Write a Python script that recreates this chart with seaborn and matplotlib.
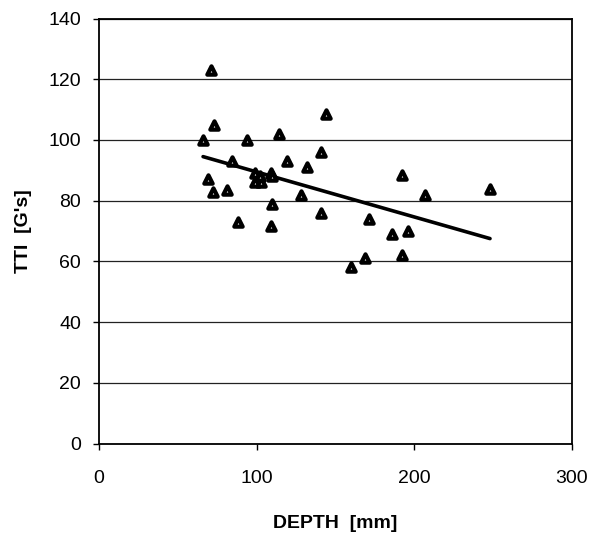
import matplotlib
matplotlib.use("Agg")
import matplotlib.pyplot as plt
import seaborn as sns
import pandas as pd

depth = [66, 71, 73, 69, 72, 81, 84.5, 88, 94, 99, 99, 103, 102, 109, 110, 109, 110,
         114, 119, 128, 132, 141, 141, 144, 160, 169, 171, 186, 192, 192, 196, 207, 248]
tti = [100, 123, 105, 87, 83, 83.5, 93, 73, 100, 89, 86, 86, 88, 89, 88, 71.5, 79,
       102, 93, 82, 91, 96, 76, 108.5, 58, 61, 74, 69, 88.5, 62, 70, 82, 84]
trend_x = [66, 248]
trend_y = [94.5, 67.5]
x_ticks = [0, 100, 200, 300]
y_ticks = [0, 20, 40, 60, 80, 100, 120, 140]

sns.set_theme(style="white")
plt.rcParams['font.family'] = ['Liberation Sans', 'DejaVu Sans']

df = pd.DataFrame({"DEPTH": depth, "TTI": tti})
tr = pd.DataFrame({"x": trend_x, "y": trend_y})

fig = plt.figure(figsize=(5.9, 5.38), dpi=100)
ax = fig.add_axes([99/590, 1 - 443.5/538, (572-99)/590, (443.5-18.5)/538])

ax.set_axisbelow(True)
for yv in y_ticks:
    ax.axhline(yv, color="#222222", lw=0.9, zorder=0)

sns.lineplot(data=tr, x="x", y="y", ax=ax, color="black", lw=2.6, zorder=3)
sns.scatterplot(data=df, x="DEPTH", y="TTI", ax=ax, marker="^", s=36,
                facecolor="white", edgecolor="black", linewidth=3.0, zorder=4)

ax.set_xlim(0, 300)
ax.set_ylim(0, 140)
ax.set_xticks(x_ticks)
ax.set_yticks(y_ticks)
ax.tick_params(axis="both", direction="out", length=4, width=1, color="black",
               labelsize=14, labelcolor="black", bottom=True, left=True)
ax.tick_params(axis="x", pad=15)
ax.tick_params(axis="y", pad=9)
for s in ax.spines.values():
    s.set_color("black")
    s.set_linewidth(1.3)
ax.set_xlabel("DEPTH  [mm]", fontsize=14, fontweight="bold", color="black", labelpad=20)
ax.set_ylabel("TTI  [G's]", fontsize=14, fontweight="bold", color="black", labelpad=12)

fig.savefig("out.png", dpi=100, facecolor="white")
